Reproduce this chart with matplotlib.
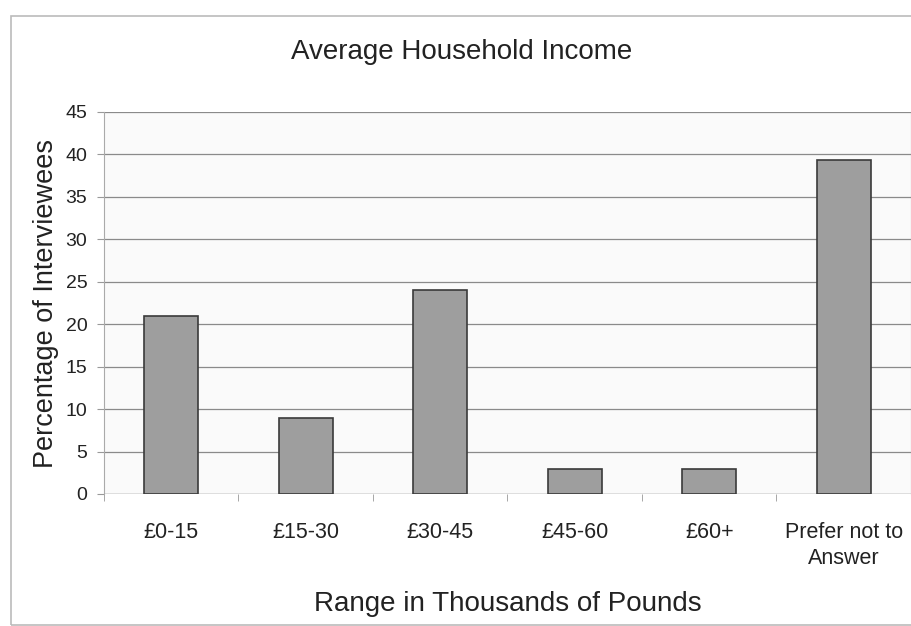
import numpy as np
import matplotlib.pyplot as plt
from matplotlib.patches import Rectangle

plt.rcParams['font.family'] = ['Liberation Sans', 'DejaVu Sans']

categories = ['£0-15', '£15-30', '£30-45', '£45-60', '£60+', 'Prefer not to\nAnswer']
percent = [21, 9, 24, 3, 3, 39.3]
yticks = [0, 5, 10, 15, 20, 25, 30, 35, 40, 45]

fig = plt.figure(figsize=(9.12, 6.26), dpi=100)
fig.patch.set_facecolor('white')

# outer chart frame
fig.patches.append(Rectangle((11 / 912, 1 / 626), 1.2, 609 / 626, transform=fig.transFigure,
                             fill=False, edgecolor='#bbbbbb', linewidth=1.2))

ax = fig.add_axes([104 / 912, 1 - 494 / 626, 807 / 912, 382 / 626])
ax.set_facecolor('#fafafa')

x = np.arange(len(categories))
ax.bar(x, percent, width=0.4, color='#9e9e9e', edgecolor='#3a3a3a', linewidth=1.2, zorder=3)

ax.set_xlim(-0.5, len(categories) - 0.5)
ax.set_ylim(0, 45)
ax.set_yticks(yticks)
ax.yaxis.grid(True, color='#8a8a8a', linewidth=0.9)
ax.set_axisbelow(True)

# category labels centred, tick marks on category boundaries
ax.set_xticks(x)
ax.set_xticklabels(categories, fontsize=15.5, color='#222222', linespacing=1.3)
ax.tick_params(axis='x', length=0, pad=20)
ax.set_xticks(np.arange(len(categories) + 1) - 0.5, minor=True)
ax.tick_params(axis='x', which='minor', length=5, color='#999999', direction='out')
ax.tick_params(axis='y', labelsize=14, length=5, color='#999999', labelcolor='#222222', pad=7)

for side in ['top', 'bottom']:
    ax.spines[side].set_visible(False)
for side in ['left', 'right']:
    ax.spines[side].set_color('#aaaaaa')
ax.axhline(0, color='#8a8a8a', linewidth=0.9, zorder=2)

ax.set_ylabel('Percentage of Interviewees', fontsize=19.5, color='#222222', labelpad=5)
ax.set_xlabel('Range in Thousands of Pounds', fontsize=20, color='#222222', labelpad=16)
fig.text(462 / 912, 1 - 52 / 626, 'Average Household Income', fontsize=20, color='#222222',
         ha='center', va='center')

fig.savefig('out.png', dpi=100)
